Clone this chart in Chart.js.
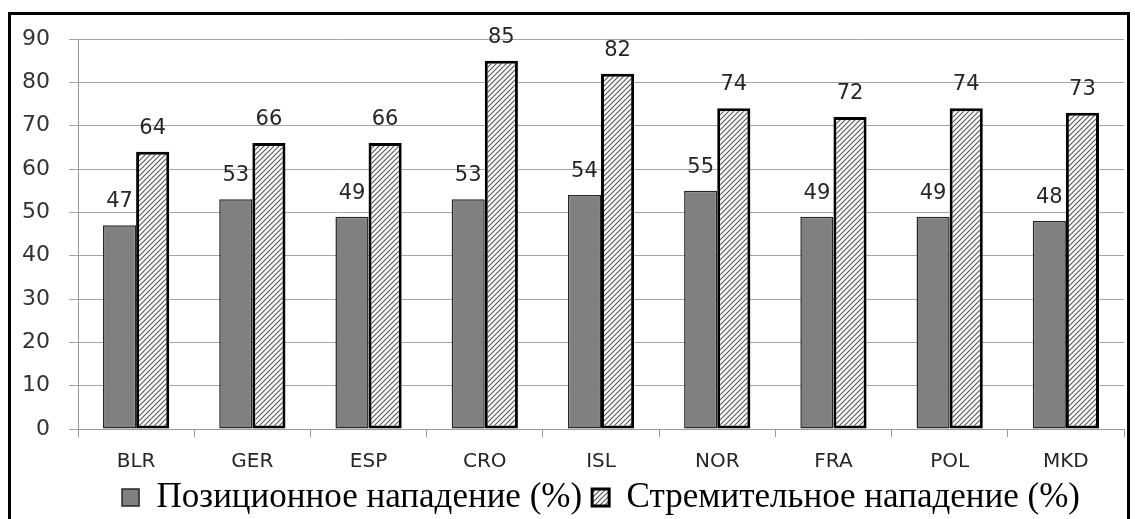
<!DOCTYPE html>
<html>
<head>
<meta charset="utf-8">
<script src="https://cdn.jsdelivr.net/npm/chart.js@4"></script>
<style>
  html, body { margin: 0; padding: 0; background: #fff; overflow: hidden; }
  #wrap { position: relative; width: 1135px; height: 519px; }
  #frame { position: absolute; left: 8px; top: 12px; width: 1122px; height: 600px; border: 3px solid #000; box-sizing: border-box; pointer-events: none; }
</style>
</head>
<body>
<div id="wrap">
  <canvas id="bars" width="1135" height="519"></canvas>
  <div id="frame"></div>
</div>
<script>
const countries = ["BLR", "GER", "ESP", "CRO", "ISL", "NOR", "FRA", "POL", "MKD"];
const positional = [47, 53, 49, 53, 54, 55, 49, 49, 48];
const fast = [64, 66, 66, 85, 82, 74, 72, 74, 73];
const seriesNames = ["Позиционное нападение (%)", "Стремительное нападение (%)"];

// diagonal hatch for the second series
function makeHatch() {
  let c = document.createElement("canvas");
  c.width = 5;
  c.height = 5;
  let g = c.getContext("2d");
  g.fillStyle = "#fff";
  g.fillRect(0, 0, 5, 5);
  g.strokeStyle = "#555";
  g.lineWidth = 1.1;
  g.beginPath();
  g.moveTo(0, 5); g.lineTo(5, 0);
  g.moveTo(-2.5, 2.5); g.lineTo(2.5, -2.5);
  g.moveTo(2.5, 7.5); g.lineTo(7.5, 2.5);
  g.stroke();
  return g.createPattern(c, "repeat");
}

const valueLabels = {
  id: "valueLabels",
  afterDatasetsDraw(chart) {
    let ctx = chart.ctx;
    ctx.save();
    ctx.font = '21px "DejaVu Sans"';
    ctx.fillStyle = "#262626";
    ctx.textAlign = "center";
    ctx.textBaseline = "alphabetic";
    chart.data.datasets.forEach((ds, i) => {
      chart.getDatasetMeta(i).data.forEach((bar, j) => {
        ctx.fillText(ds.data[j], bar.x, bar.y - 18);
      });
    });
    ctx.restore();
  },
};

const hatch = makeHatch();

new Chart(document.getElementById("bars"), {
  type: "bar",
  data: {
    labels: countries,
    datasets: [
      {
        label: seriesNames[0],
        data: positional,
        backgroundColor: "#808080",
        borderColor: "#262626",
        borderWidth: 1.5,
        borderSkipped: false,
      },
      {
        label: seriesNames[1],
        data: fast,
        backgroundColor: hatch,
        borderColor: "#000",
        borderWidth: 3,
        borderSkipped: false,
      },
    ],
  },
  options: {
    responsive: false,
    animation: false,
    devicePixelRatio: 1,
    layout: { padding: { left: 8, right: 11, top: 39, bottom: -6 } },
    datasets: { bar: { categoryPercentage: 0.57, barPercentage: 1.0 } },
    plugins: {
      tooltip: { enabled: false },
      legend: {
        position: "bottom",
        fullSize: false,
        labels: {
          font: { family: '"Liberation Serif"', size: 35 },
          color: "#000",
          boxWidth: 17,
          boxHeight: 17,
          padding: 10,
        },
      },
    },
    scales: {
      x: {
        grid: { drawOnChartArea: false, tickLength: 8, color: "#999" },
        border: { color: "#999" },
        ticks: { font: { family: '"DejaVu Sans"', size: 20 }, color: "#262626", padding: 13 },
        afterFit: (scale) => { scale.height = 41; },
      },
      y: {
        min: 0,
        max: 90,
        grid: { color: "#a6a6a6", tickLength: 9 },
        border: { color: "#999" },
        ticks: { stepSize: 10, font: { family: '"DejaVu Sans"', size: 22 }, color: "#333", padding: 19 },
        afterFit: (scale) => { scale.width = 70; },
      },
    },
  },
  plugins: [valueLabels],
});
</script>
</body>
</html>
